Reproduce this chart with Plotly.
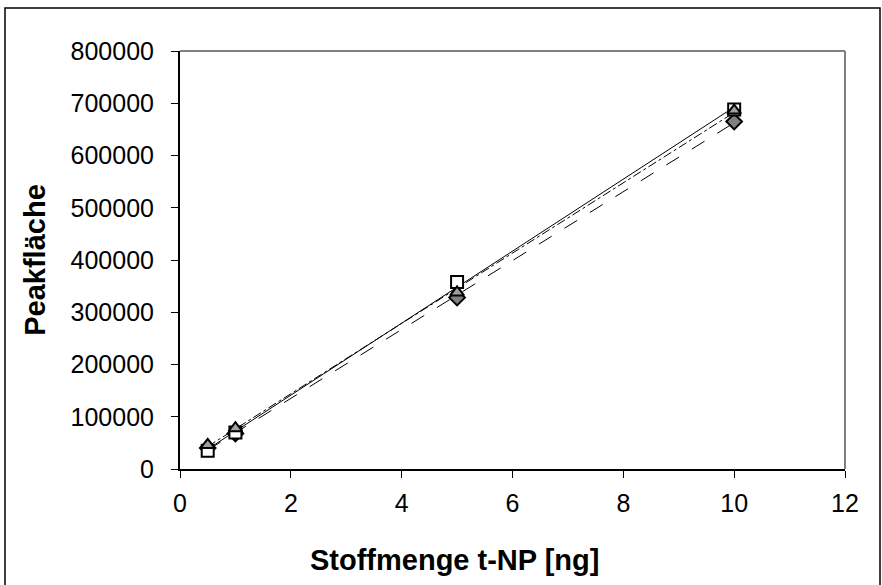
import numpy as np
import plotly.graph_objects as go

x_vals = [0.5, 1, 5, 10]
series_diamond = [40000, 68000, 328000, 665000]
series_square = [35000, 70000, 358000, 688000]
series_triangle = [46000, 78000, 338000, 686000]

x_ticks = [0, 2, 4, 6, 8, 10, 12]
y_ticks = [0, 100000, 200000, 300000, 400000, 500000, 600000, 700000, 800000]
y_tick_text = [str(v) for v in y_ticks]

fig = go.Figure()

series = [
    (series_diamond, "diamond", "#808080", "longdash"),
    (series_square, "square", "white", "solid"),
    (series_triangle, "triangle-up", "#a0a0a0", "dashdot"),
]

for ys, sym, fill, dash in series:
    k, d = np.polyfit(x_vals, ys, 1)
    xs = [min(x_vals), max(x_vals)]
    fig.add_trace(go.Scatter(x=xs, y=[k * v + d for v in xs], mode="lines",
                             line=dict(color="black", width=1, dash=dash),
                             showlegend=False, hoverinfo="skip"))

for ys, sym, fill, dash in series:
    fig.add_trace(go.Scatter(x=x_vals, y=ys, mode="markers",
                             marker=dict(symbol=sym, size=12, color=fill,
                                         line=dict(color="black", width=2)),
                             showlegend=False))

L, R, T, B = 180, 37, 51, 116
W, H = 882, 585
pw, ph = W - L - R, H - T - B


def px_x(p):
    return (p - L) / pw


def px_y(p):
    return (T + ph - p) / ph


fig.update_layout(
    width=W, height=H,
    margin=dict(l=L, r=R, t=T, b=B),
    paper_bgcolor="white", plot_bgcolor="white",
    font=dict(family="Liberation Sans, Arial", color="black", size=25),
    xaxis=dict(range=[0, 12], tickvals=x_ticks, showgrid=False, zeroline=False,
               showline=True, linecolor="black", linewidth=2,
               ticks="outside", ticklen=7, tickcolor="black", tickwidth=1,
               ticklabelstandoff=4),
    yaxis=dict(range=[0, 800000], tickvals=y_ticks, ticktext=y_tick_text,
               showgrid=False, zeroline=False,
               showline=True, linecolor="black", linewidth=2,
               ticks="outside", ticklen=7, tickcolor="black", tickwidth=1,
               ticklabelstandoff=12,
               title=dict(text="<b>Peakfläche</b>", font=dict(size=29), standoff=16)),
    annotations=[
        dict(text="<b>Stoffmenge t-NP [ng]</b>", xref="paper", yref="paper",
             x=px_x(454), y=px_y(560), xanchor="center", yanchor="middle",
             showarrow=False, font=dict(size=29)),
    ],
    shapes=[
        dict(type="line", xref="paper", yref="paper", x0=0, x1=1, y0=1, y1=1,
             line=dict(color="#808080", width=2)),
        dict(type="line", xref="paper", yref="paper", x0=1, x1=1, y0=0, y1=1,
             line=dict(color="#808080", width=2)),
        dict(type="rect", xref="paper", yref="paper",
             x0=px_x(5), x1=px_x(880), y0=px_y(600), y1=px_y(8),
             line=dict(color="black", width=1.5), fillcolor="rgba(0,0,0,0)"),
    ],
)

fig.write_html("out.html")
